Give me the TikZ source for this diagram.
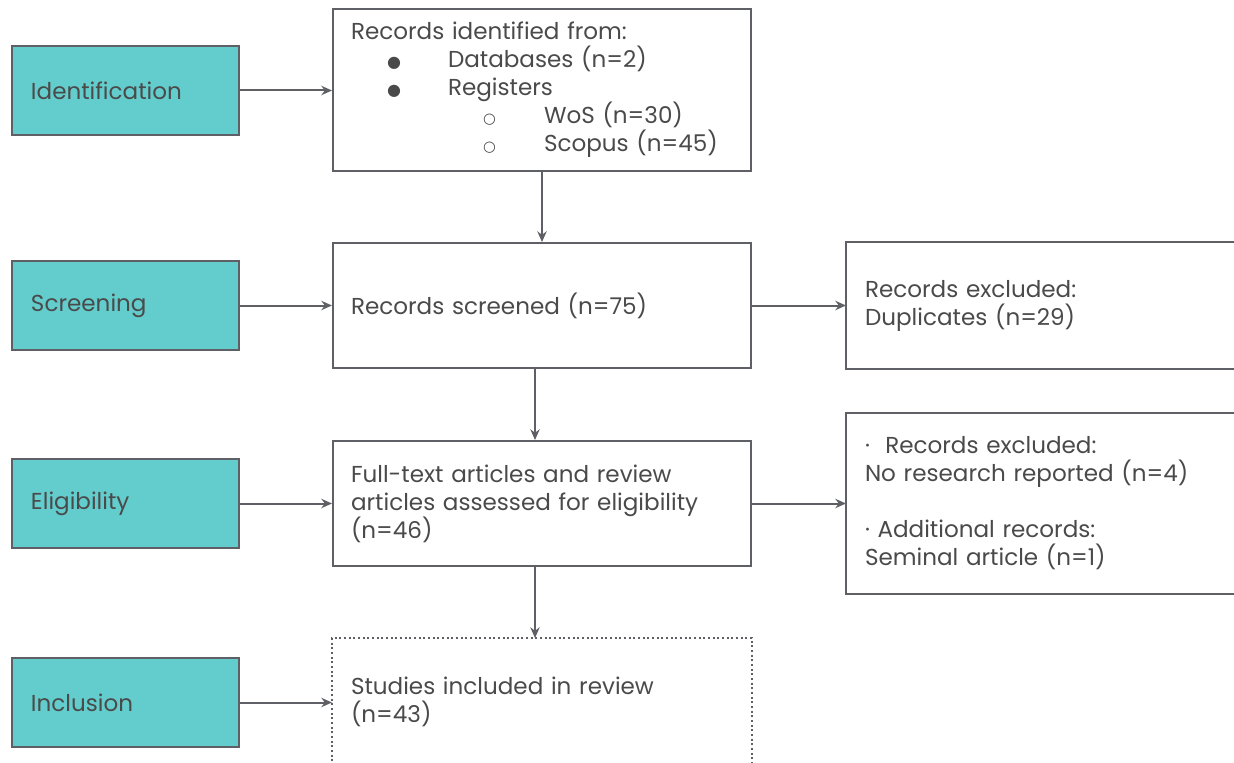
\documentclass[tikz,border=0pt]{standalone}
\usepackage{fontspec}
\setmainfont{Poppins}
\newfontfamily\symfont{DejaVu Sans}
\usetikzlibrary{arrows.meta}
\definecolor{tealfill}{HTML}{63CDCD}
\definecolor{edgegray}{HTML}{5F5F66}
\definecolor{txtgray}{HTML}{4A4A4A}
\tikzset{
  base/.style={line width=1.5pt, font=\fontsize{17.3}{21}\selectfont, text=txtgray, align=left},
  stage/.style={base, draw=edgegray, fill=tealfill, anchor=north west,
    minimum width=170.25pt, minimum height=66.75pt, inner xsep=14.25pt, text width=141.75pt},
  flowbox/.style={base, draw=edgegray, anchor=north west,
    minimum width=313.5pt, minimum height=93.75pt, inner xsep=13.5pt, text width=286.5pt},
  sidebox/.style={base, anchor=north west,
    minimum width=295.5pt, minimum height=93.75pt, inner xsep=13.5pt, text width=268.5pt},
  arr/.style={draw=edgegray, line width=1.5pt, -{Stealth[length=8pt,width=7pt]}},
  sideline/.style={draw=edgegray, line width=1.5pt},
}
\newcommand{\bigdot}{{\symfont\fontsize{12}{12}\selectfont ●}}
\newcommand{\ringdot}{{\symfont\fontsize{11}{12}\selectfont ○}}
\begin{document}
\begin{tikzpicture}[x=0.75pt,y=-0.75pt]
\useasboundingbox (0,0) rectangle (1234,763);
% stage boxes
\node[stage] (ident) at (11,45) {Identification};
\node[stage] (screen) at (11,260) {Screening};
\node[stage] (elig) at (11,458) {Eligibility};
\node[stage] (incl) at (11,657) {Inclusion};
% flow boxes
\node[flowbox, minimum height=121.5pt] (recid) at (332,8) {Records identified from:\\
\makebox[72.75pt][l]{\hspace*{27pt}\bigdot}Databases (n=2)\\
\makebox[72.75pt][l]{\hspace*{27pt}\bigdot}Registers\\
\makebox[144.75pt][l]{\hspace*{99pt}\ringdot}WoS (n=30)\\
\makebox[144.75pt][l]{\hspace*{99pt}\ringdot}Scopus (n=45)};
\node[flowbox] (scr) at (332,242) {Records screened (n=75)};
\node[flowbox] (ft) at (332,440) {Full-text articles and review\\articles assessed for eligibility\\(n=46)};
\node[flowbox, draw=none, minimum height=94.5pt] (incbox) at (332,638) {Studies included in review\\(n=43)};
\draw[sideline, dotted, line width=1.2pt] (incbox.south west) -- (incbox.north west) -- (incbox.north east) -- (incbox.south east);
% side boxes
\node[sidebox] (excl) at (846,242) {Records excluded:\\Duplicates (n=29)};
\draw[sideline] (excl.north east) -- (excl.north west) -- (excl.south west) -- (excl.south east);
\node[sidebox, minimum height=134.25pt] (excl2) at (846,413) {\textperiodcentered\ \ Records excluded:\\No research reported (n=4)\\[21pt]\textperiodcentered\ Additional records:\\Seminal article (n=1)};
\draw[sideline] (excl2.north east) -- (excl2.north west) -- (excl2.south west) -- (excl2.south east);
% arrows
\draw[arr] (ident.east) -- (ident.east -| recid.west);
\draw[arr] (screen.east) -- (screen.east -| scr.west);
\draw[arr] (elig.east) -- (elig.east -| ft.west);
\draw[arr] (incl.east) -- (incl.east -| incbox.west);
\draw[arr] (recid.south) -- (scr.north);
\draw[arr] ([xshift=-5.25pt]scr.south) -- ([xshift=-5.25pt]ft.north);
\draw[arr] ([xshift=-5.25pt]ft.south) -- ([xshift=-5.25pt]incbox.north);
\draw[arr] (scr.east) -- (scr.east -| excl.west);
\draw[arr] (ft.east) -- (ft.east -| excl2.west);
\end{tikzpicture}
\end{document}
